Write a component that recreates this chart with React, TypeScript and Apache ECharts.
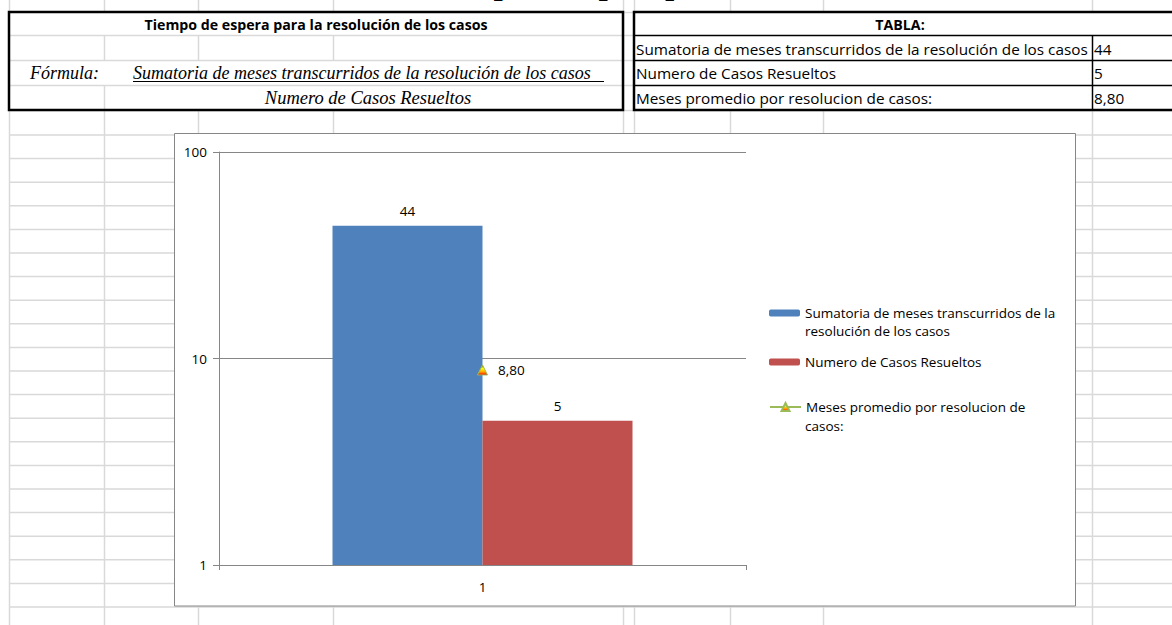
import React, { useEffect, useRef } from "react";
import * as echarts from "echarts";

// ---- data ----
const categories = ["1"];
const sumatoriaMeses = [44];
const casosResueltos = [5];
const promedioMeses = [8.8];
const seriesNames = [
  "Sumatoria de meses transcurridos de la resolución de los casos",
  "Numero de Casos Resueltos",
  "Meses promedio por resolucion de casos:",
];
const legendFirstLine = ["Sumatoria de meses transcurridos de la", "Numero de Casos Resueltos", "Meses promedio por resolucion de"];
const legendSecondLine = ["resolución de los casos", "", "casos:"];
const yMin = 1;
const yMax = 100;

const fmt = (v: number, d: number) => (d ? v.toFixed(d).replace(".", ",") : String(v));
const tablaValues = [fmt(sumatoriaMeses[0], 0), fmt(casosResueltos[0], 0), fmt(promedioMeses[0], 2)];

// ---- layout (spreadsheet) ----
const colX = [9, 104, 198, 333, 623, 634, 730, 823, 1092];
const rowY: number[] = [12, 35, 60, 85, 110];
for (let k = 0; k <= 20; k++) rowY.push(134.5 + 23.6 * k);

const GRID = "#d9d9d9";
const AXIS = "#868686";
const SANS = "Open Sans, Lato, sans-serif";
const SERIF = "Liberation Serif, Times New Roman, serif";
const CF = 13.5;

function line(x1: number, y1: number, x2: number, y2: number, stroke: string, w = 1, z = -10) {
  return { type: "line", z, silent: true, shape: { x1, y1, x2, y2 }, style: { stroke, lineWidth: w } };
}
function text(x: number, y: number, t: string, font: string, align = "left", z = -5, extra: any = {}) {
  return {
    type: "text",
    z,
    silent: true,
    x,
    y,
    style: { text: t, font, fill: "#000", align, verticalAlign: "middle", ...extra },
  };
}

function buildGraphics() {
  const g: any[] = [];
  // sheet gridlines
  colX.forEach((x) => g.push(line(x + 0.5, 0, x + 0.5, 625, GRID, 1.5, -20)));
  rowY.forEach((y) => g.push(line(9, y + 0.5, 1172, y + 0.5, GRID, 1.5, -20)));
  // table backgrounds
  g.push({ type: "rect", z: -15, silent: true, shape: { x: 9, y: 12, width: 614, height: 98 }, style: { fill: "#fff" } });
  g.push({ type: "rect", z: -15, silent: true, shape: { x: 634, y: 12, width: 560, height: 98 }, style: { fill: "#fff" } });
  // left table inner gray lines
  [35, 60, 85].forEach((y) => g.push(line(9, y + 0.5, 623, y + 0.5, GRID, 1.5, -14)));
  [104, 198, 333].forEach((x) => g.push(line(x + 0.5, 35, x + 0.5, 60, GRID, 1.5, -14)));
  g.push(line(104.5, 85, 104.5, 110, GRID, 1.5, -14));
  // right table inner black lines
  [35, 60, 85].forEach((y) => g.push(line(634, y + 0.5, 1172, y + 0.5, "#000", 1.5, -13)));
  g.push(line(1092.5, 35, 1092.5, 110, "#000", 1.5, -13));
  // thick borders
  g.push({ type: "rect", z: -12, silent: true, shape: { x: 9, y: 12, width: 614, height: 98 }, style: { fill: "none", stroke: "#000", lineWidth: 2.5 } });
  g.push({ type: "rect", z: -12, silent: true, shape: { x: 634, y: 12, width: 560, height: 98 }, style: { fill: "none", stroke: "#000", lineWidth: 2.5 } });
  // clipped page title (only descenders visible, as in the sheet)
  g.push({
    type: "text", z: -11, silent: true, x: 430, y: -1.5,
    style: { text: "Tiempo de espera promedio", font: `italic bold 32px ${SERIF}`, fill: "#000", align: "left", verticalAlign: "bottom" },
  });
  // left table texts
  g.push(text(316, 24, "Tiempo de espera para la resolución de los casos", `bold 14.2px ${SANS}`, "center"));
  g.push(text(30, 73, "Fórmula:", `italic 18px ${SERIF}`));
  g.push(text(133, 73, seriesNames[0], `italic 18px ${SERIF}`));
  g.push(line(133, 81.5, 604, 81.5, "#000", 1, -5));
  g.push(text(368, 98, seriesNames[1], `italic 18.5px ${SERIF}`, "center"));
  // right table texts
  g.push(text(900, 24, "TABLA:", `bold 14.2px ${SANS}`, "center"));
  const tablaRows = [49, 73, 98];
  seriesNames.forEach((n, i) => {
    g.push(text(636, tablaRows[i], n, `15.3px ${SANS}`));
    g.push(text(1094, tablaRows[i], tablaValues[i], `15.3px ${SANS}`));
  });
  // chart frame
  g.push({ type: "rect", z: -3, silent: true, shape: { x: 174.5, y: 133.5, width: 901, height: 472.5 }, style: { fill: "#fff", stroke: AXIS, lineWidth: 1 } });
  // legend continuation lines
  g.push(text(805, 331, legendSecondLine[0], `${CF}px ${SANS}`, "left", 5));
  g.push(text(805, 426, legendSecondLine[2], `${CF}px ${SANS}`, "left", 5));
  return g;
}

export default function App() {
  const ref = useRef<HTMLDivElement>(null);
  useEffect(() => {
    if (!ref.current) return;
    const chart = echarts.init(ref.current, undefined, { renderer: "svg" });
    const legendBase = {
      orient: "vertical",
      padding: 0,
      itemWidth: 31,
      itemHeight: 7,
      itemGap: 0,
      textStyle: { fontFamily: SANS, fontSize: CF, color: "#000" },
    };
    const tri = {
      type: "linear", x: 0, y: 0, x2: 0, y2: 1,
      colorStops: [
        { offset: 0, color: "#4f6228" },
        { offset: 0.35, color: "#ffff00" },
        { offset: 0.7, color: "#ffa500" },
        { offset: 1, color: "#ff0000" },
      ],
    };
    chart.setOption({
      animation: false,
      backgroundColor: "#fff",
      graphic: buildGraphics(),
      grid: { left: 219, top: 152, width: 527, height: 413, containLabel: false },
      legend: [
        { ...legendBase, left: 769, top: 306, data: [seriesNames[0]], formatter: () => legendFirstLine[0] },
        { ...legendBase, left: 769, top: 355, data: [seriesNames[1]], formatter: () => legendFirstLine[1] },
        { ...legendBase, left: 769, top: 400, data: [seriesNames[2]], formatter: () => legendFirstLine[2], itemHeight: 10 },
      ],
      xAxis: {
        type: "category",
        data: categories,
        axisLine: { lineStyle: { color: AXIS, width: 1 } },
        axisTick: { show: true, length: 5, lineStyle: { color: AXIS } },
        axisLabel: { margin: 15, fontFamily: SANS, fontSize: CF, color: "#000" },
      },
      yAxis: {
        type: "log",
        logBase: 10,
        min: yMin,
        max: yMax,
        axisLine: { show: true, lineStyle: { color: AXIS, width: 1 } },
        axisTick: { show: true, length: 6, lineStyle: { color: AXIS } },
        axisLabel: { margin: 12, fontFamily: SANS, fontSize: CF, color: "#000" },
        splitLine: { show: true, lineStyle: { color: AXIS, width: 1 } },
        minorTick: { show: false },
      },
      series: [
        {
          name: seriesNames[0],
          type: "bar",
          data: sumatoriaMeses,
          barWidth: 150,
          barGap: "0%",
          itemStyle: { color: "#4f81bd" },
          label: { show: true, position: "top", distance: 8, color: "#000", fontFamily: SANS, fontSize: CF },
        },
        {
          name: seriesNames[1],
          type: "bar",
          data: casosResueltos,
          barWidth: 150,
          barGap: "0%",
          itemStyle: { color: "#c0504d" },
          label: { show: true, position: "top", distance: 8, color: "#000", fontFamily: SANS, fontSize: CF },
        },
        {
          name: seriesNames[2],
          type: "line",
          data: promedioMeses,
          symbol: "triangle",
          symbolSize: [10, 10],
          lineStyle: { color: "#9bbb59", width: 3 },
          itemStyle: { color: tri, borderColor: "#9bbb59", borderWidth: 1 },
          z: 5,
          label: {
            show: true,
            position: "right",
            distance: 10,
            color: "#000",
            fontFamily: SANS,
            fontSize: CF,
            formatter: (p: any) => fmt(p.value, 2),
          },
        },
      ],
    });
    return () => chart.dispose();
  }, []);
  return (
    <div style={{ position: "fixed", left: 0, top: 0, width: 1172, height: 625, background: "#fff" }}>
      <div ref={ref} style={{ width: 1172, height: 625 }} />
    </div>
  );
}
